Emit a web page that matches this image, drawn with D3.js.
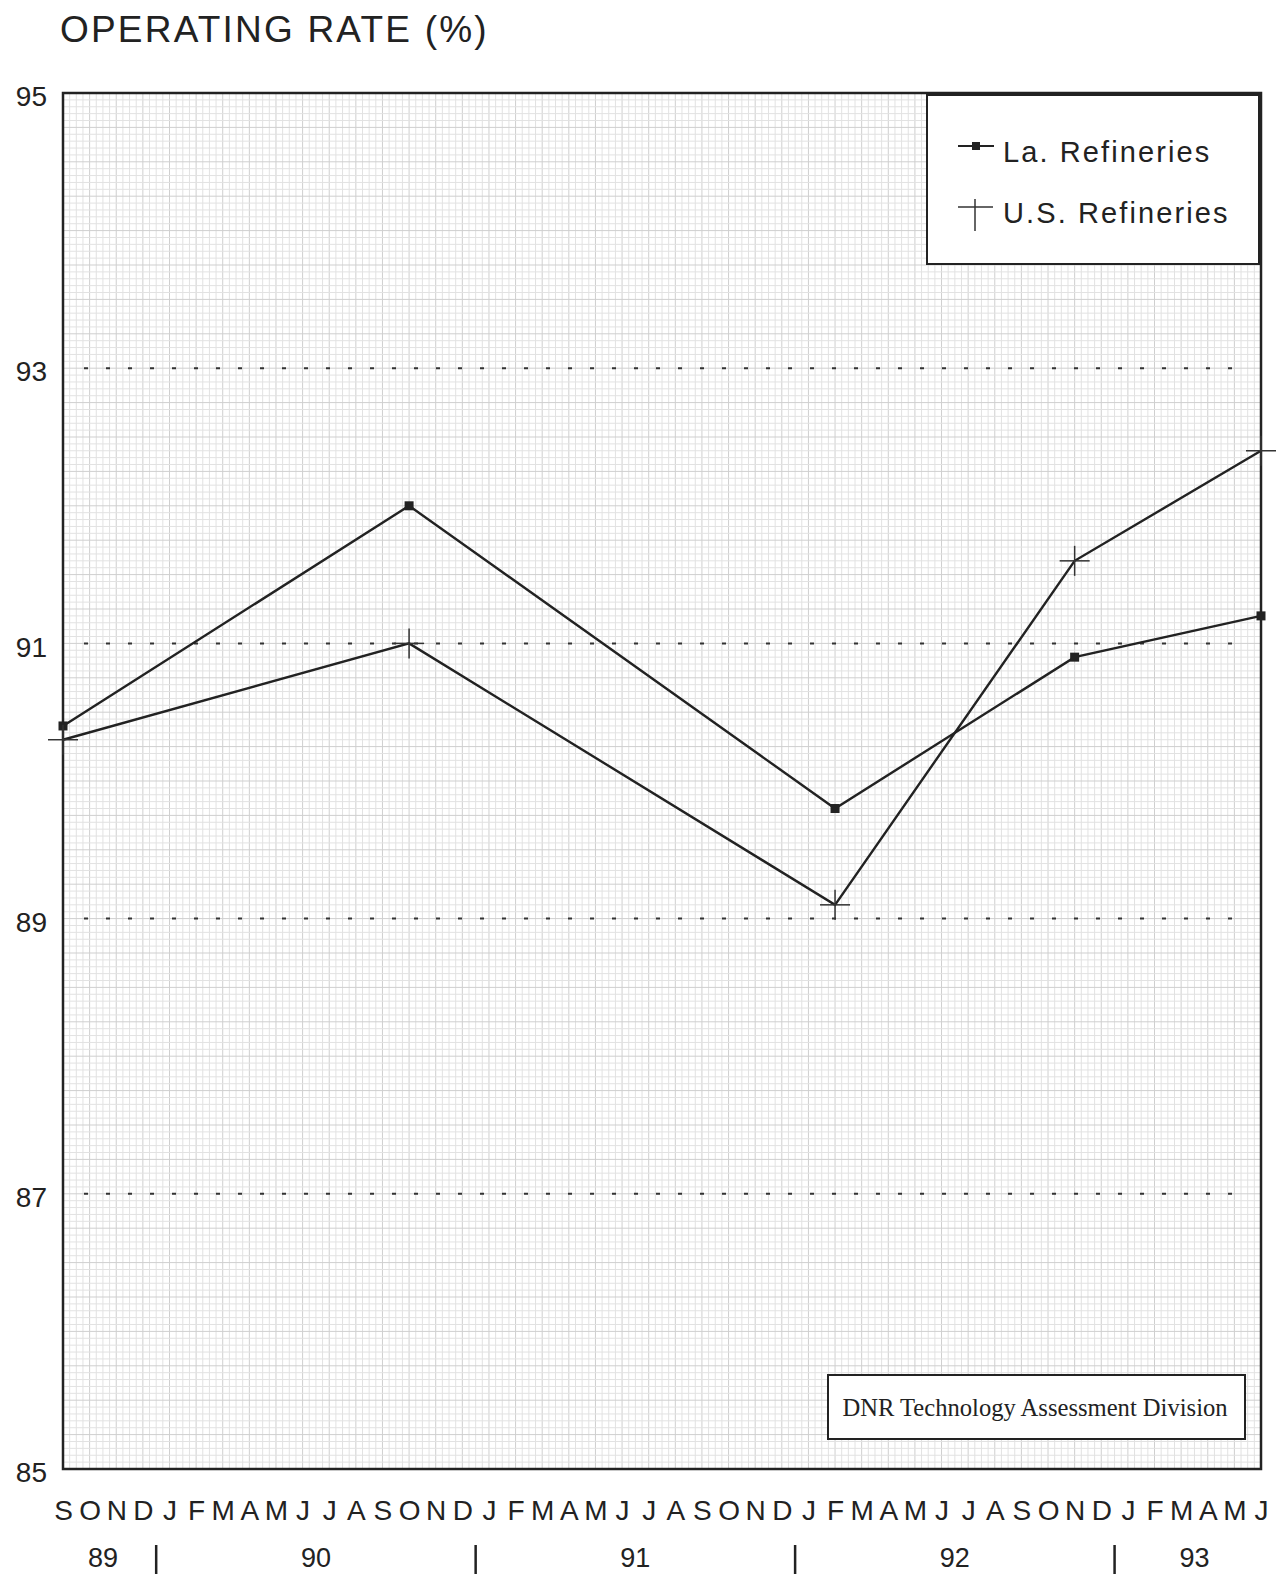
<html>
<head>
<script src="https://d3js.org/d3.v7.min.js"></script>
<style>
  html, body { margin: 0; background: #fff; overflow: hidden; }
  svg { display: block; }
  text { font-family: "Liberation Sans", Arial, sans-serif; fill: #222; }
</style>
</head>
<body>
<script>
// month letters along the bottom, Sep 89 .. Jun 93
const months = ["S","O","N","D",
  "J","F","M","A","M","J","J","A","S","O","N","D",
  "J","F","M","A","M","J","J","A","S","O","N","D",
  "J","F","M","A","M","J","J","A","S","O","N","D",
  "J","F","M","A","M","J"];
const years = ["89", "90", "91", "92", "93"];
const yearStart = [0, 4, 16, 28, 40];   // month index where each year begins
const yearEnd = [3, 15, 27, 39, 45];

// observation months (index into months) and values
const obsMonth = [0, 13, 29, 38, 45];
const laRate = [90.4, 92.0, 89.8, 90.9, 91.2];
const usRate = [90.3, 91.0, 89.1, 91.6, 92.4];

const yTicks = [85, 87, 89, 91, 93, 95];
const dottedAt = [87, 89, 91, 93];

const width = 1280, height = 1578;
const svg = d3.select("body").append("svg")
  .attr("width", width)
  .attr("height", height);

const x = d3.scaleLinear().domain([0, 45]).range([63, 1261]);
const y = d3.scaleLinear().domain([85, 95]).range([1469, 93]);

// title
svg.append("text")
  .attr("x", 60).attr("y", 42)
  .style("font-size", "37px")
  .style("letter-spacing", "2.2px")
  .text("OPERATING RATE (%)");

// graph paper background
const paper = svg.append("g");
paper.selectAll(".vg")
  .data(d3.range(0, 45.01, 0.25))
  .join("line")
  .attr("x1", d => x(d)).attr("x2", d => x(d))
  .attr("y1", y(95)).attr("y2", y(85))
  .attr("stroke", (d, i) => i % 4 == 0 ? "#cfcfcf" : "#e2e2e2")
  .attr("stroke-width", 1);
paper.selectAll(".hg")
  .data(d3.range(85, 95.001, 0.05))
  .join("line")
  .attr("x1", x(0)).attr("x2", x(45))
  .attr("y1", d => y(d)).attr("y2", d => y(d))
  .attr("stroke", (d, i) => i % 5 == 0 ? "#cfcfcf" : "#e2e2e2")
  .attr("stroke-width", 1);

// dotted reference lines
svg.selectAll(".dot")
  .data(dottedAt)
  .join("line")
  .attr("x1", x(0) + 21).attr("x2", x(45) - 12)
  .attr("y1", d => y(d)).attr("y2", d => y(d))
  .attr("stroke", "#333")
  .attr("stroke-width", 2)
  .attr("stroke-dasharray", "4,18");

// frame
svg.append("rect")
  .attr("x", x(0)).attr("y", y(95))
  .attr("width", x(45) - x(0)).attr("height", y(85) - y(95))
  .attr("fill", "none")
  .attr("stroke", "#222")
  .attr("stroke-width", 2.5);

// y axis
const yAxis = svg.append("g")
  .attr("transform", `translate(${x(0)},0)`)
  .call(d3.axisLeft(y).tickValues(yTicks).tickSize(0).tickPadding(16));
yAxis.select(".domain").remove();
yAxis.selectAll("text")
  .attr("dy", "0.45em")
  .style("font-size", "28px")
  .style("font-family", "Liberation Sans, Arial, sans-serif")
  .attr("fill", "#222");

// x axis month letters
const xAxis = svg.append("g")
  .attr("transform", `translate(0,${y(85)})`)
  .call(d3.axisBottom(x).tickValues(d3.range(months.length))
    .tickFormat(i => months[i]).tickSize(0).tickPadding(31));
xAxis.select(".domain").remove();
xAxis.selectAll("text")
  .style("font-size", "28px")
  .style("font-family", "Liberation Sans, Arial, sans-serif")
  .attr("fill", "#222");

// year labels and separators
svg.selectAll(".year")
  .data(years)
  .join("text")
  .attr("x", (d, i) => x((yearStart[i] + yearEnd[i]) / 2))
  .attr("y", 1567)
  .attr("text-anchor", "middle")
  .style("font-size", "27px")
  .text(d => d);
svg.selectAll(".sep")
  .data(yearStart.slice(1))
  .join("line")
  .attr("x1", d => x(d - 0.5)).attr("x2", d => x(d - 0.5))
  .attr("y1", 1545).attr("y2", 1574)
  .attr("stroke", "#222")
  .attr("stroke-width", 2.5);

// series lines
const line = d3.line()
  .x((d, i) => x(obsMonth[i]))
  .y(d => y(d));

svg.append("path")
  .datum(laRate)
  .attr("d", line)
  .attr("fill", "none")
  .attr("stroke", "#222")
  .attr("stroke-width", 2.4);
svg.append("path")
  .datum(usRate)
  .attr("d", line)
  .attr("fill", "none")
  .attr("stroke", "#222")
  .attr("stroke-width", 2.4);

// La. markers: small filled squares
svg.selectAll(".laMark")
  .data(laRate)
  .join("rect")
  .attr("x", (d, i) => x(obsMonth[i]) - 4.5)
  .attr("y", d => y(d) - 4.5)
  .attr("width", 9).attr("height", 9)
  .attr("fill", "#222");

// U.S. markers: plus signs
const cross = 15;
const usMarks = svg.selectAll(".usMark")
  .data(usRate)
  .join("g")
  .attr("transform", (d, i) => `translate(${x(obsMonth[i])},${y(d)})`);
usMarks.append("line")
  .attr("x1", -cross).attr("x2", cross)
  .attr("stroke", "#333").attr("stroke-width", 1.5);
usMarks.append("line")
  .attr("y1", -cross).attr("y2", cross)
  .attr("stroke", "#333").attr("stroke-width", 1.5);

// legend
const legend = svg.append("g");
legend.append("rect")
  .attr("x", 927).attr("y", 95)
  .attr("width", 332).attr("height", 169)
  .attr("fill", "#fff")
  .attr("stroke", "#222")
  .attr("stroke-width", 2);
legend.append("line")
  .attr("x1", 958).attr("x2", 994)
  .attr("y1", 146).attr("y2", 146)
  .attr("stroke", "#222").attr("stroke-width", 2);
legend.append("rect")
  .attr("x", 972).attr("y", 142)
  .attr("width", 8).attr("height", 8)
  .attr("fill", "#222");
legend.append("text")
  .attr("x", 1003).attr("y", 162)
  .style("font-size", "29px")
  .style("letter-spacing", "2.1px")
  .text("La. Refineries");
legend.append("line")
  .attr("x1", 958).attr("x2", 993)
  .attr("y1", 207).attr("y2", 207)
  .attr("stroke", "#333").attr("stroke-width", 1.5);
legend.append("line")
  .attr("x1", 975).attr("x2", 975)
  .attr("y1", 199).attr("y2", 231)
  .attr("stroke", "#333").attr("stroke-width", 1.5);
legend.append("text")
  .attr("x", 1003).attr("y", 223)
  .style("font-size", "29px")
  .style("letter-spacing", "2.1px")
  .text("U.S. Refineries");

// source box
svg.append("rect")
  .attr("x", 828).attr("y", 1375)
  .attr("width", 417).attr("height", 64)
  .attr("fill", "#fff")
  .attr("stroke", "#222")
  .attr("stroke-width", 2);
svg.append("text")
  .attr("x", 1035).attr("y", 1416)
  .attr("text-anchor", "middle")
  .style("font-family", "Liberation Serif, Times New Roman, serif")
  .style("font-size", "24.6px")
  .text("DNR Technology Assessment Division");
</script>
</body>
</html>
